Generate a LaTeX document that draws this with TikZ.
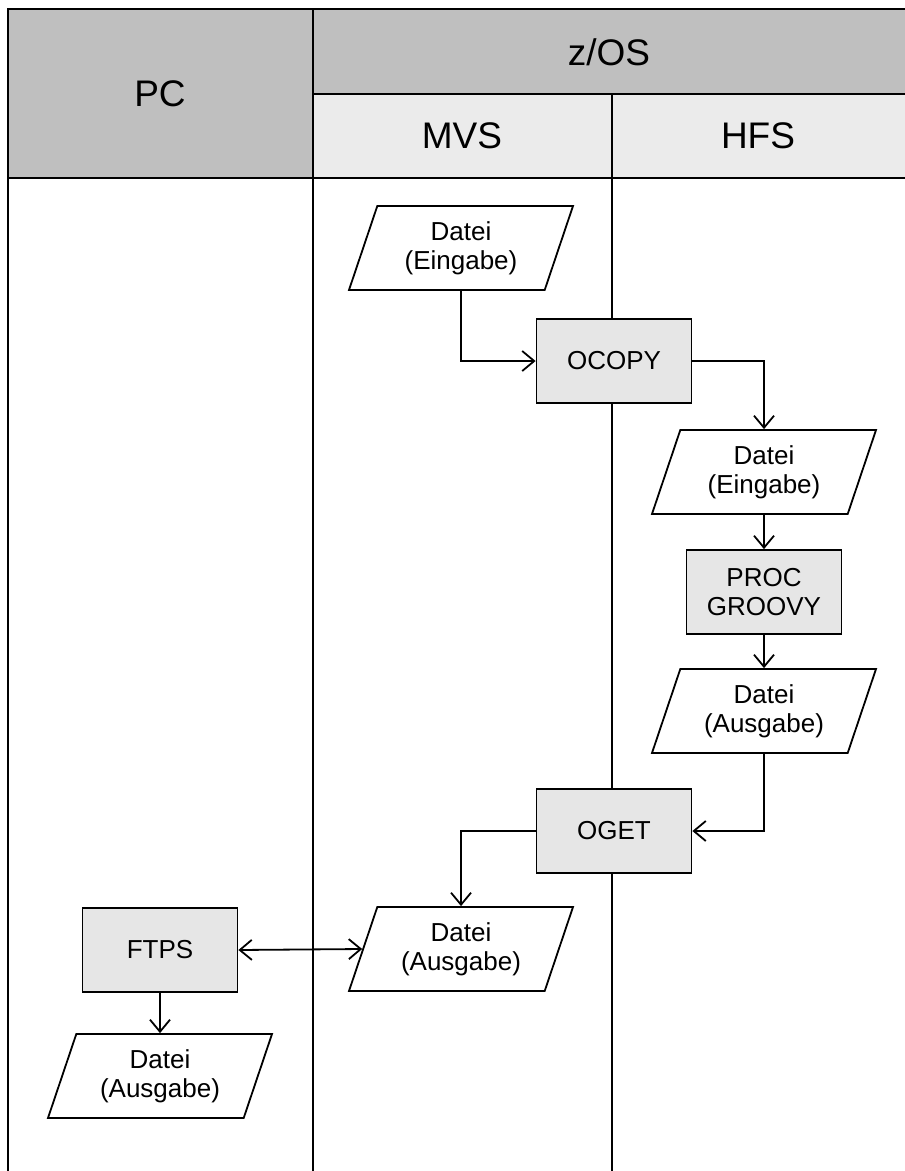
\documentclass[tikz,border=0pt]{standalone}
\usepackage{fontspec}
\setmainfont{Liberation Sans}
\usetikzlibrary{positioning,shapes.geometric,arrows.meta}
\definecolor{headgray}{HTML}{BFBFBF}
\definecolor{subgray}{HTML}{EBEBEB}
\definecolor{boxgray}{HTML}{E6E6E6}

\begin{document}
\begin{tikzpicture}[x=1pt,y=-1pt,>={Straight Barb[length=12pt,width=20pt]}]
\tikzset{frame/.style={line width=1.8pt},
  head/.style={font=\fontsize{37}{40}\selectfont},
  proc/.style={draw,fill=boxgray,line width=1.8pt,minimum width=155pt,minimum height=84pt,
    align=center,inner sep=0pt,font=\fontsize{26}{29}\selectfont},
  data/.style={trapezium,trapezium left angle=62,trapezium right angle=118,
    trapezium stretches body,draw,fill=white,line width=1.8pt,minimum width=224pt,
    minimum height=84pt,align=center,inner sep=0pt,font=\fontsize{26}{29}\selectfont},
  flow/.style={line width=1.8pt}};
   \useasboundingbox (0,0) rectangle (905,1171);

   % swimlane frame
   \fill[headgray] (8,9) rectangle (313,178);
   \fill[headgray] (313,9) rectangle (905,94);
   \fill[subgray] (313,94) rectangle (612,178);
   \fill[subgray] (612,94) rectangle (905,178);
   \draw[frame] (8,1171) -- (8,9) -- (905,9);
   \draw[frame] (313,9) -- (313,1171);
   \draw[frame] (612,94) -- (612,1171);
   \draw[frame] (313,94) -- (905,94);
   \draw[frame] (8,178) -- (905,178);

   \node[head] at (160,94) (pc) {PC};
   \node[head] at (609,52) (zos) {z/OS};
   \node[head] at (462,136) (mvs) {MVS};
   \node[head] at (758,136) (hfs) {HFS};

   % steps
   \node[data] at (461,248) (inMVS) {Datei\\(Eingabe)};
   \node[proc] at (614,361) (ocopy) {OCOPY};
   \node[data] at (764,472) (inHFS) {Datei\\(Eingabe)};
   \node[proc] at (764,592) (groovy) {PROC\\GROOVY};
   \node[data] at (764,711) (outHFS) {Datei\\(Ausgabe)};
   \node[proc] at (614,831) (oget) {OGET};
   \node[data] at (461,949) (outMVS) {Datei\\(Ausgabe)};
   \node[proc] at (160,950) (ftps) {FTPS};
   \node[data] at (160,1076) (outPC) {Datei\\(Ausgabe)};

   \draw[flow,->] (inMVS.south) |- (ocopy.west);
   \draw[flow,->] (ocopy.east) -| (inHFS.north);
   \draw[flow,->] (inHFS) -- (groovy);
   \draw[flow,->] (groovy) -- (outHFS);
   \draw[flow,->] (outHFS.south) |- (oget.east);
   \draw[flow,->] (oget.west) -| (outMVS.north);
   \draw[flow,<->] (ftps.east) -- (outMVS.west);
   \draw[flow,->] (ftps) -- (outPC);
\end{tikzpicture}
\end{document}
